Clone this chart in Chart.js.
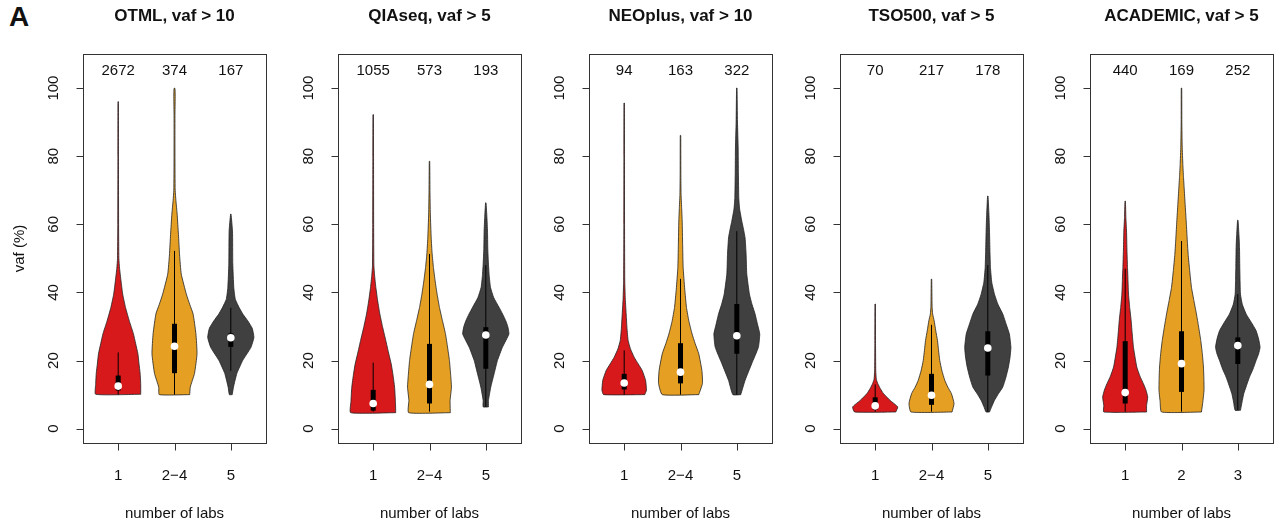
<!DOCTYPE html>
<html>
<head>
<meta charset="utf-8">
<script src="https://cdn.jsdelivr.net/npm/chart.js@4.4.0/dist/chart.umd.min.js"></script>
<style>
    body { margin: 0; background: #fff; }
    #page { position: relative; width: 1283px; height: 523px; overflow: hidden; font-family: "Liberation Sans", Arial, sans-serif; color: #111; }
    .panel { position: absolute; top: 0; }
    .titre { position: absolute; top: 6px; transform: translateX(-50%); font-weight: bold; font-size: 17px; white-space: nowrap; }
    #lettre { position: absolute; left: 9px; top: 1px; font-weight: bold; font-size: 28px; }
</style>
</head>
<body>
<div id="page">
    <div id="lettre">A</div>
</div>
<script>
const panelTitles = ["OTML, vaf > 10", "QIAseq, vaf > 5", "NEOplus, vaf > 10", "TSO500, vaf > 5", "ACADEMIC, vaf > 5"];
const labGroups = [
    ["1", "2\u22124", "5"],
    ["1", "2\u22124", "5"],
    ["1", "2\u22124", "5"],
    ["1", "2\u22124", "5"],
    ["1", "2", "3"]
];
const variantCounts = [[2672, 374, 167], [1055, 573, 193], [94, 163, 322], [70, 217, 178], [440, 169, 252]];
const vafMedian = [[12.5, 24.2, 26.7], [7.4, 13, 27.5], [13.4, 16.6, 27.3], [6.7, 9.8, 23.7], [10.6, 19.1, 24.4]];
const vafQ1 = [[11.2, 16.3, 24], [5.3, 7.4, 17.6], [11.5, 13.3, 22], [5.6, 7, 15.6], [7.4, 10.8, 19]];
const vafQ3 = [[15.6, 30.8, 28], [11.4, 24.9, 29.8], [16.1, 25.1, 36.6], [9.2, 16.1, 28.6], [25.7, 28.6, 26.8]];
const whiskerLow = [[10, 10, 17], [5, 5, 6.4], [10, 10, 10], [5, 5, 5], [5, 5, 5.5]];
const whiskerHigh = [[22.4, 52.2, 35.5], [19.4, 51.3, 48], [23, 44, 58], [13, 30.5, 48], [47, 55.1, 39.5]];
const yTicks = [0, 20, 40, 60, 80, 100];

// violin outlines: [vaf, half width in x units], from bottom to top
const otmlShapes = [
    [[10.1, 0.40], [13, 0.40], [16.2, 0.39], [19, 0.37], [22, 0.35], [25, 0.31], [27.9, 0.27], [31.5, 0.2], [35.6, 0.13], [39.5, 0.08], [43.4, 0.05], [47, 0.025], [50, 0.012], [60, 0.007], [80, 0.005], [96, 0.004]],
    [[10, 0.27], [12.2, 0.28], [16.2, 0.355], [22, 0.40], [27.9, 0.38], [33.7, 0.33], [36.5, 0.27], [39.5, 0.21], [45.4, 0.12], [51, 0.09], [57, 0.07], [63, 0.047], [67, 0.025], [70, 0.012], [80, 0.008], [92, 0.008], [97, 0.012], [99.5, 0.01], [100, 0.004]],
    [[10, 0.025], [12.2, 0.047], [16.2, 0.107], [20, 0.21], [23.8, 0.355], [26.8, 0.41], [29.5, 0.38], [31.7, 0.3], [33.5, 0.22], [35.5, 0.15], [38, 0.08], [41.4, 0.053], [48.4, 0.035], [58, 0.03], [63, 0.004]]
];
const qiaseqShapes = [
    [[4.7, 0.40], [8, 0.395], [12.2, 0.38], [16, 0.35], [19, 0.32], [22.5, 0.27], [25.9, 0.224], [30, 0.165], [33.7, 0.118], [37.5, 0.08], [41.5, 0.047], [45, 0.025], [48, 0.012], [60, 0.008], [80, 0.006], [92.2, 0.004]],
    [[4.7, 0.37], [8.3, 0.366], [12.2, 0.39], [16, 0.375], [20, 0.354], [24, 0.32], [27.9, 0.283], [31.7, 0.23], [35.6, 0.177], [39.5, 0.135], [43.4, 0.1], [47.3, 0.07], [51.3, 0.047], [56, 0.03], [63, 0.015], [70, 0.008], [78.5, 0.004]],
    [[6.4, 0.047], [8.3, 0.047], [12.2, 0.088], [16.1, 0.147], [20, 0.206], [23.9, 0.295], [27.8, 0.41], [30, 0.39], [31.7, 0.354], [33.6, 0.3], [35.6, 0.236], [38.5, 0.14], [41.5, 0.083], [45, 0.06], [48.3, 0.047], [53, 0.035], [58, 0.03], [62, 0.02], [66.3, 0.004]]
];
const neoplusShapes = [
    [[10, 0.365], [11.3, 0.395], [14.2, 0.38], [17.1, 0.32], [19, 0.25], [21, 0.177], [23.5, 0.11], [25.9, 0.07], [29.5, 0.05], [33.7, 0.035], [38, 0.02], [43.4, 0.01], [60, 0.006], [80, 0.005], [95.6, 0.004]],
    [[10, 0.324], [13.3, 0.39], [17.1, 0.38], [22, 0.324], [25, 0.26], [27.8, 0.206], [31.5, 0.15], [35.6, 0.106], [41, 0.075], [47.3, 0.047], [54, 0.038], [61, 0.03], [65, 0.02], [68.8, 0.01], [75, 0.006], [86.1, 0.004]],
    [[10, 0.07], [14.2, 0.147], [19.1, 0.265], [23.9, 0.383], [27.8, 0.407], [30.5, 0.37], [33.7, 0.324], [36.5, 0.27], [39.5, 0.224], [45.4, 0.177], [51.2, 0.165], [56, 0.147], [58.5, 0.12], [61, 0.088], [64.5, 0.05], [67.8, 0.035], [75, 0.028], [82.4, 0.024], [90, 0.012], [100, 0.004]]
];
const tso500Shapes = [
    [[4.9, 0.365], [6.4, 0.4], [8.3, 0.265], [10.3, 0.147], [11.8, 0.09], [13.2, 0.047], [14.5, 0.02], [17, 0.01], [25, 0.006], [36.6, 0.004]],
    [[4.9, 0.365], [7.4, 0.4], [10.3, 0.354], [12.2, 0.29], [14.2, 0.236], [17, 0.185], [20, 0.147], [23, 0.125], [25.9, 0.106], [28.8, 0.075], [31.7, 0.047], [33.7, 0.02], [36, 0.01], [43.9, 0.004]],
    [[4.9, 0.03], [6.5, 0.07], [8.3, 0.118], [10.3, 0.19], [12.2, 0.265], [15, 0.32], [18.1, 0.366], [21, 0.395], [23.9, 0.41], [27.8, 0.383], [30.5, 0.33], [33.7, 0.265], [36.5, 0.18], [39.5, 0.118], [43, 0.07], [47.3, 0.047], [52, 0.038], [58, 0.03], [63, 0.02], [68.3, 0.004]]
];
const academicShapes = [
    [[4.9, 0.38], [6.8, 0.38], [9.3, 0.4], [11.3, 0.37], [13.2, 0.324], [15.5, 0.26], [18.1, 0.206], [21, 0.175], [23.9, 0.147], [27.8, 0.125], [31.7, 0.106], [35.6, 0.08], [39.5, 0.059], [43.5, 0.05], [47.3, 0.041], [52, 0.032], [58, 0.024], [62, 0.012], [66.8, 0.004]],
    [[4.9, 0.354], [8, 0.38], [11.3, 0.4], [14.5, 0.398], [18.1, 0.39], [22, 0.37], [25.9, 0.342], [29.8, 0.305], [33.7, 0.265], [37.6, 0.22], [41.5, 0.177], [46.4, 0.145], [51.2, 0.118], [56, 0.1], [61, 0.083], [65.8, 0.065], [70.7, 0.047], [74, 0.035], [77.5, 0.024], [83, 0.012], [90, 0.006], [100, 0.004]],
    [[5.4, 0.047], [7.8, 0.075], [10.3, 0.106], [12.7, 0.155], [15.1, 0.206], [17.5, 0.27], [20, 0.324], [22, 0.37], [23.9, 0.395], [26.3, 0.37], [28.8, 0.324], [31.2, 0.24], [33.7, 0.147], [36.5, 0.08], [39.5, 0.047], [43.5, 0.04], [47.3, 0.035], [53.2, 0.03], [57, 0.02], [61.2, 0.004]]
];
const violinShapes = [otmlShapes, qiaseqShapes, neoplusShapes, tso500Shapes, academicShapes];
const violinColors = ["#d7191c", "#e5a024", "#404040"];

const police = '"Liberation Sans", Arial, sans-serif';
const boxLefts = [83, 338, 589, 840, 1090];
const axisWidth = 83, areaWidth = 183, rightPad = 8;

Chart.defaults.font.family = police;
Chart.defaults.color = "#111";

function violinPolygon(shape, centre) {
    const cote1 = shape.map(p => ({ x: centre + p[1], y: p[0] }));
    const cote2 = shape.slice().reverse().map(p => ({ x: centre - p[1], y: p[0] }));
    const pts = cote1.concat(cote2);
    pts.push(pts[0]);
    return pts;
}

const cadrePlugin = {
    id: "cadre",
    afterDraw(chart, args, opts) {
        const { ctx, chartArea: a, scales } = chart;
        const L = Math.round(a.left) + 0.5, T = Math.round(a.top) + 0.5;
        const R = Math.round(a.right) + 0.5, B = Math.round(a.bottom) + 0.5;
        ctx.save();
        ctx.strokeStyle = "#333";
        ctx.lineWidth = 1;
        ctx.strokeRect(L, T, R - L, B - T);
        // petits traits des graduations, comme axis() de R
        ctx.beginPath();
        yTicks.forEach(v => {
            const py = Math.round(scales.y.getPixelForValue(v)) + 0.5;
            ctx.moveTo(L - 7, py);
            ctx.lineTo(L, py);
        });
        [1, 2, 3].forEach(v => {
            const px = Math.round(scales.x.getPixelForValue(v)) + 0.5;
            ctx.moveTo(px, B);
            ctx.lineTo(px, B + 7);
        });
        ctx.stroke();
        // nombre de variants au-dessus de chaque violon
        ctx.font = "15px " + police;
        ctx.fillStyle = "#111";
        ctx.textAlign = "center";
        ctx.textBaseline = "middle";
        opts.counts.forEach((n, i) => {
            ctx.fillText(String(n), scales.x.getPixelForValue(i + 1), scales.y.getPixelForValue(105));
        });
        ctx.restore();
    }
};

const page = document.getElementById("page");

for (let p = 0; p < panelTitles.length; p++) {
    const canvas = document.createElement("canvas");
    canvas.className = "panel";
    canvas.width = axisWidth + areaWidth + rightPad;
    canvas.height = 523;
    canvas.style.left = (boxLefts[p] - axisWidth) + "px";
    page.appendChild(canvas);

    const titre = document.createElement("div");
    titre.className = "titre";
    titre.textContent = panelTitles[p];
    titre.style.left = (boxLefts[p] + areaWidth / 2) + "px";
    page.appendChild(titre);

    const datasets = [];
    for (let g = 0; g < 3; g++) {
        const cx = g + 1;
        datasets.push({
            data: violinPolygon(violinShapes[p][g], cx),
            showLine: true, fill: "shape", tension: 0.15,
            backgroundColor: violinColors[g], borderColor: "#222", borderWidth: 0.8,
            borderJoinStyle: "round", pointRadius: 0, order: 3
        });
        datasets.push({
            data: [{ x: cx, y: whiskerLow[p][g] }, { x: cx, y: whiskerHigh[p][g] }],
            showLine: true, borderColor: "#000", borderWidth: 1, pointRadius: 0, order: 2
        });
        datasets.push({
            data: [{ x: cx, y: vafQ1[p][g] }, { x: cx, y: vafQ3[p][g] }],
            showLine: true, borderColor: "#000", borderWidth: 5, borderCapStyle: "butt", pointRadius: 0, order: 1
        });
        datasets.push({
            data: [{ x: cx, y: vafMedian[p][g] }],
            showLine: false, pointRadius: 3.8, pointBackgroundColor: "#fff", pointBorderWidth: 0, order: 0
        });
    }

    new Chart(canvas, {
        type: "scatter",
        data: { datasets: datasets },
        options: {
            responsive: false,
            animation: false,
            devicePixelRatio: 1,
            layout: { padding: { top: 54, right: rightPad, left: 0, bottom: 0 } },
            plugins: {
                legend: { display: false },
                tooltip: { enabled: false },
                cadre: { counts: variantCounts[p] }
            },
            scales: {
                x: {
                    type: "linear", min: 0.375, max: 3.625,
                    afterBuildTicks: s => { s.ticks = [1, 2, 3].map(v => ({ value: v })); },
                    afterFit: s => { s.height = 80; },
                    ticks: {
                        callback: v => labGroups[p][Math.round(v) - 1],
                        font: { size: 15 }, color: "#111", padding: 16, maxRotation: 0
                    },
                    grid: { display: false },
                    border: { display: false },
                    title: { display: true, text: "number of labs", font: { size: 15 }, color: "#111", padding: { top: 0, bottom: 0 } }
                },
                y: {
                    type: "linear", min: -4.2, max: 110,
                    afterBuildTicks: s => { s.ticks = yTicks.map(v => ({ value: v })); },
                    afterFit: s => { s.width = axisWidth; },
                    ticks: { minRotation: 90, maxRotation: 90, crossAlign: "center", padding: 9, font: { size: 15 }, color: "#111" },
                    grid: { display: false },
                    border: { display: false },
                    title: { display: p === 0, text: "vaf (%)", font: { size: 15 }, color: "#111", padding: { top: 11, bottom: 0 } }
                }
            }
        },
        plugins: [cadrePlugin]
    });
}
</script>
</body>
</html>
